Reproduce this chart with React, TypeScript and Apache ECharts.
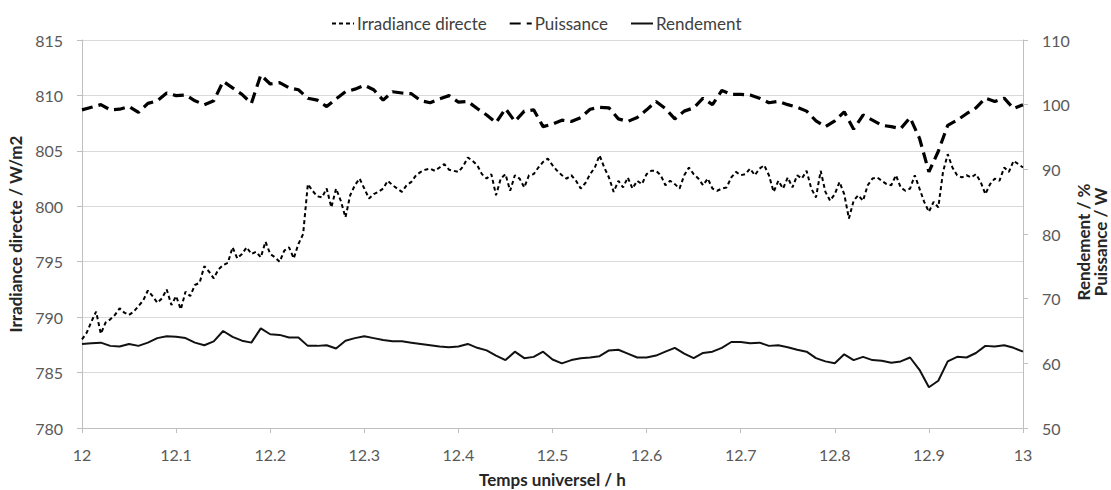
import React, { useEffect, useRef } from "react";
import * as echarts from "echarts";

// Time axis ticks (hours UT)
const xTicks = [12, 12.1, 12.2, 12.3, 12.4, 12.5, 12.6, 12.7, 12.8, 12.9, 13];

// Right axis titles
const rightTitles = ["Rendement / %", "Puissance / W"];

// Irradiance directe (W/m2), sampled every 0.005 h from 12.000 to 13.000
const irradianceStart = 12;
const irradianceStep = 0.005;
const irradiance = [
  788.0, 788.6, 789.6, 790.5, 788.5, 789.5, 789.8, 790.2, 790.8, 790.4,
  790.2, 790.5, 791.0, 791.5, 792.4, 791.9, 791.3, 791.7, 792.5, 791.1,
  791.9, 790.7, 792.3, 791.9, 792.9, 793.1, 794.6, 794.1, 793.5, 794.3,
  794.7, 794.9, 796.3, 795.3, 795.7, 796.3, 795.7, 795.9, 795.4, 796.8,
  795.7, 795.4, 795.0, 796.0, 796.3, 795.3, 796.6, 797.5, 802.0, 801.4,
  800.9, 800.8, 801.6, 799.9, 801.6, 800.5, 799.0, 801.0, 801.9, 802.5,
  801.6, 800.7, 801.1, 801.3, 801.6, 802.3, 801.9, 801.6, 801.3, 801.9,
  802.2, 802.8, 803.1, 803.3, 803.4, 803.2, 803.5, 803.8, 803.3, 803.2,
  803.1, 803.6, 804.4, 804.1, 803.7, 802.9, 802.5, 802.9, 801.0, 802.5,
  802.9, 801.4, 802.8, 802.5, 801.7, 802.8, 802.9, 803.5, 804.0, 804.3,
  803.7, 803.2, 802.8, 802.5, 802.8, 802.3, 801.6, 802.1, 802.9, 803.5,
  804.6, 803.5, 802.6, 801.3, 802.3, 801.7, 802.6, 801.6, 802.3, 802.0,
  802.9, 803.2, 803.2, 802.8, 801.9, 802.3, 802.0, 801.6, 802.8, 803.5,
  802.9, 802.5, 801.9, 802.5, 801.6, 801.4, 801.6, 801.7, 802.6, 803.1,
  802.8, 802.9, 803.4, 802.8, 803.4, 803.7, 802.8, 801.3, 802.3, 801.6,
  802.6, 801.7, 802.8, 802.5, 803.2, 801.6, 800.8, 803.2, 801.3, 800.5,
  801.1, 802.2, 801.1, 798.9, 800.5, 801.0, 800.5, 801.9, 802.5, 802.6,
  802.3, 802.0, 801.9, 802.8, 801.7, 801.4, 801.6, 802.8, 801.6, 800.4,
  799.5, 800.4, 799.9, 803.1, 804.7, 803.5, 802.8, 802.6, 802.8, 802.6,
  802.9, 802.2, 801.1, 802.0, 802.5, 802.3, 803.5, 803.1, 804.1, 803.8,
  803.5,
];

// Puissance (W) and Rendement (%), sampled every 0.01 h from 12.00 to 13.00
const rightStart = 12;
const rightStep = 0.01;
const puissance = [
  99.2, 99.6, 100.0, 99.2, 99.3, 99.7, 98.8, 100.2, 100.6, 101.8,
  101.4, 101.5, 100.6, 100.0, 100.6, 103.6, 102.6, 101.6, 100.2, 104.6,
  103.2, 103.4, 102.6, 102.3, 101.0, 100.7, 99.7, 100.9, 102.0, 102.4,
  103.0, 102.3, 100.7, 102.0, 101.8, 101.7, 100.6, 100.3, 100.9, 101.4,
  100.4, 100.5, 99.4, 98.4, 97.2, 99.4, 97.4, 99.0, 99.2, 96.6,
  97.0, 97.6, 97.4, 98.0, 99.3, 99.6, 99.5, 97.8, 97.4, 98.0,
  99.2, 100.5, 99.4, 97.8, 99.0, 99.5, 101.0, 100.0, 102.2, 101.6,
  101.6, 101.5, 101.0, 100.3, 100.5, 100.0, 99.6, 99.0, 97.5, 96.6,
  97.5, 98.9, 96.2, 98.4, 97.6, 96.8, 96.6, 96.3, 98.0, 94.8,
  89.6, 92.8, 96.8, 97.6, 98.6, 99.5, 101.0, 100.5, 101.0, 99.4,
  100.0,
];
const rendement = [
  63.0, 63.1, 63.2, 62.7, 62.6, 63.0, 62.7, 63.2, 63.9, 64.2,
  64.1, 63.9, 63.2, 62.8, 63.4, 65.0, 64.1, 63.5, 63.2, 65.4,
  64.5, 64.4, 64.0, 64.0, 62.7, 62.7, 62.8, 62.3, 63.5, 63.9,
  64.2, 63.9, 63.6, 63.4, 63.4, 63.2, 63.0, 62.8, 62.6, 62.5,
  62.6, 63.0, 62.4, 62.0, 61.2, 60.5, 61.8, 60.8, 61.0, 61.8,
  60.6, 60.0, 60.5, 60.8, 60.9, 61.1, 62.0, 62.1, 61.5, 60.9,
  60.9, 61.2, 61.8, 62.4, 61.5, 60.8, 61.6, 61.8, 62.4, 63.3,
  63.3, 63.1, 63.2, 62.7, 62.8, 62.5, 62.1, 61.8, 60.8, 60.3,
  60.0, 61.4, 60.5, 61.0, 60.5, 60.4, 60.1, 60.3, 60.9, 59.0,
  56.3, 57.3, 60.3, 61.0, 60.9, 61.6, 62.7, 62.6, 62.8, 62.4,
  61.8,
];

const FONT = "Lato, 'Open Sans', sans-serif";

function toPairs(start: number, step: number, values: number[]) {
  return values.map((v, i) => [+(start + i * step).toFixed(3), v]);
}

export default function App() {
  const ref = useRef<HTMLDivElement>(null);

  useEffect(() => {
    if (!ref.current) return;
    const chart = echarts.init(ref.current, undefined, { renderer: "svg" });
    const axisGray = "#bfbfbf";
    const labelColor = "#595959";
    const nameStyle = { fontFamily: FONT, fontSize: 17, fontWeight: "bold", color: "#262626" };
    chart.setOption({
      animation: false,
      backgroundColor: "#ffffff",
      textStyle: { fontFamily: FONT },
      legend: {
        top: 10,
        left: 326,
        itemWidth: 22,
        itemHeight: 10,
        itemGap: 22,
        itemStyle: { opacity: 0 },
        textStyle: { fontFamily: FONT, fontSize: 17, color: "#404040", padding: [0, 0, 0, -2] },
        data: ["Irradiance directe", "Puissance", "Rendement"],
      },
      grid: {
        left: 82,
        right: 88,
        top: 40,
        bottom: 62,
        containLabel: false,
        outerBoundsMode: "none",
      },
      graphic: rightTitles.map((t, i) => ({
        type: "text",
        x: 1083 + i * 17,
        y: 242,
        rotation: Math.PI / 2,
        style: {
          text: t,
          fill: "#262626",
          font: `bold 17px ${FONT}`,
          textAlign: "center",
          textVerticalAlign: "middle",
        },
      })),
      xAxis: {
        type: "value",
        min: xTicks[0],
        max: xTicks[xTicks.length - 1],
        interval: 0.1,
        name: "Temps universel / h",
        nameLocation: "middle",
        nameGap: 42,
        nameTextStyle: { ...nameStyle, lineHeight: 18 },
        axisLine: { show: true, lineStyle: { color: axisGray, width: 1 } },
        axisTick: { show: true, length: 5, lineStyle: { color: axisGray } },
        axisLabel: {
          fontFamily: FONT,
          fontSize: 16,
          color: labelColor,
          margin: 18,
          formatter: (v: number) => String(+v.toFixed(1)),
        },
        splitLine: { show: false },
      },
      yAxis: [
        {
          type: "value",
          min: 780,
          max: 815,
          interval: 5,
          position: "left",
          name: "Irradiance directe / W/m2",
          nameLocation: "middle",
          nameGap: 53,
          nameRotate: 90,
          nameTextStyle: nameStyle,
          axisLine: { show: true, lineStyle: { color: axisGray, width: 1 } },
          axisTick: { show: true, length: 5, lineStyle: { color: axisGray } },
          axisLabel: { fontFamily: FONT, fontSize: 16, color: labelColor, margin: 19 },
          splitLine: { show: true, lineStyle: { color: "#d9d9d9", width: 1 } },
        },
        {
          type: "value",
          min: 50,
          max: 110,
          interval: 10,
          position: "right",
          axisLine: { show: true, lineStyle: { color: axisGray, width: 1 } },
          axisTick: { show: true, length: 5, lineStyle: { color: axisGray } },
          axisLabel: { fontFamily: FONT, fontSize: 16, color: labelColor, margin: 19 },
          splitLine: { show: false },
        },
      ],
      series: [
        {
          name: "Irradiance directe",
          type: "line",
          yAxisIndex: 0,
          showSymbol: false,
          symbol: "none",
          data: toPairs(irradianceStart, irradianceStep, irradiance),
          lineStyle: { color: "#000000", width: 2, type: [4, 3] },
          itemStyle: { color: "#000000" },
          z: 3,
        },
        {
          name: "Puissance",
          type: "line",
          yAxisIndex: 1,
          showSymbol: false,
          symbol: "none",
          data: toPairs(rightStart, rightStep, puissance),
          lineStyle: { color: "#000000", width: 3.2, type: [11, 6] },
          itemStyle: { color: "#000000" },
          z: 4,
        },
        {
          name: "Rendement",
          type: "line",
          yAxisIndex: 1,
          showSymbol: false,
          symbol: "none",
          data: toPairs(rightStart, rightStep, rendement),
          lineStyle: { color: "#111111", width: 2 },
          itemStyle: { color: "#111111" },
          z: 5,
        },
      ],
    });
    return () => chart.dispose();
  }, []);

  return (
    <div
      ref={ref}
      style={{ position: "fixed", left: 0, top: 0, width: 1111, height: 490, background: "#fff" }}
    />
  );
}
